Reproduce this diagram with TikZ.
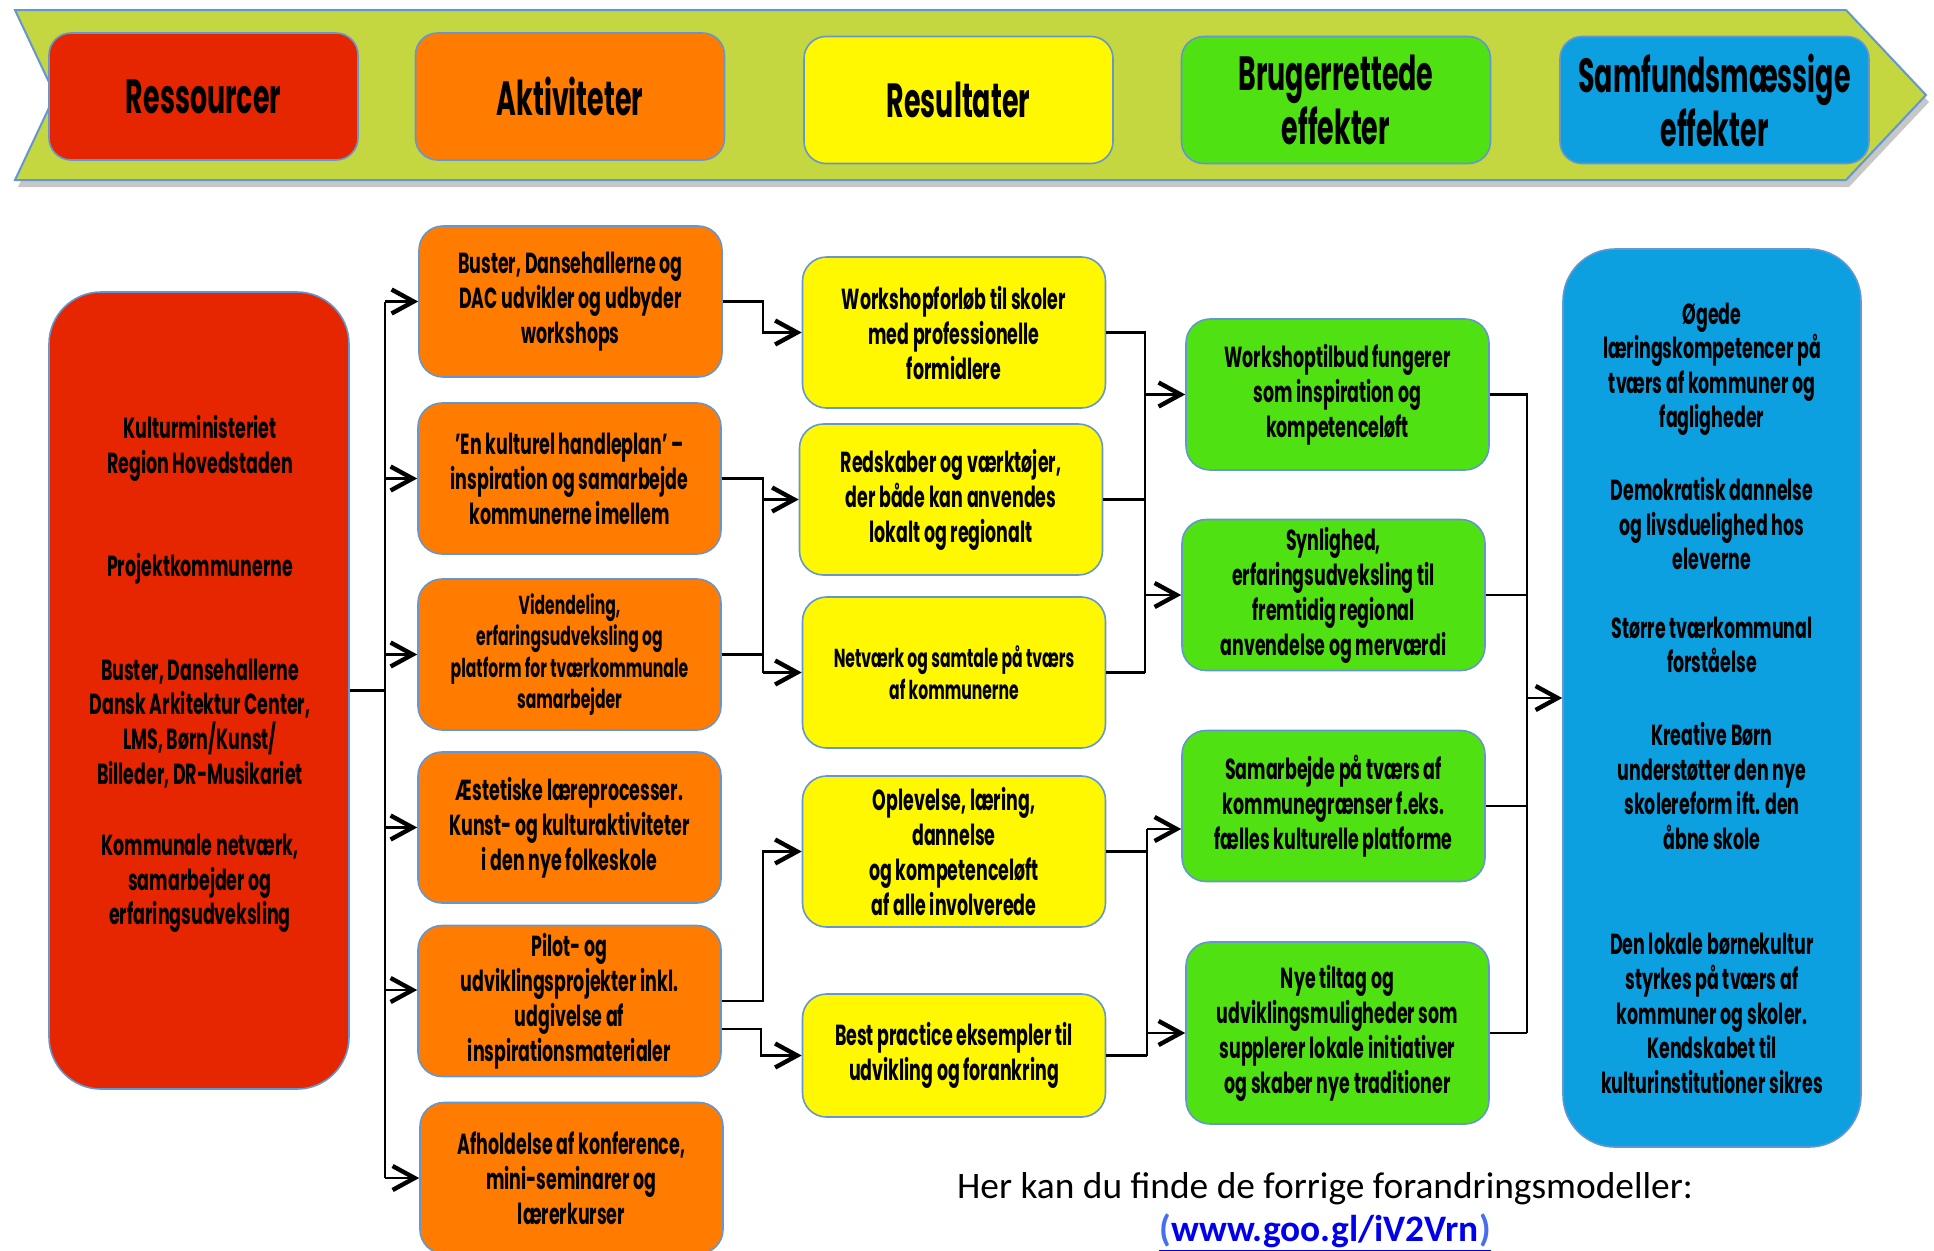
\documentclass[tikz,border=0pt]{standalone}
\usepackage{fontspec}
\setmainfont{Carlito}
\newfontfamily\boxfont[FakeStretch=0.6]{Poppins}
\newfontfamily\headfont[FakeStretch=0.56]{Poppins}
\usetikzlibrary{shapes, arrows.meta, calc}

\definecolor{resred}{RGB}{229,38,0}
\definecolor{aktorange}{RGB}{255,124,0}
\definecolor{resyellow}{RGB}{255,248,0}
\definecolor{brugreen}{RGB}{80,225,18}
\definecolor{samblue}{RGB}{12,160,225}
\definecolor{bannergreen}{RGB}{196,214,64}
\definecolor{boxline}{RGB}{100,150,210}
\definecolor{linkblue}{RGB}{0,0,235}
\definecolor{parblue}{RGB}{70,110,240}

\begin{document}
\begin{tikzpicture}[x=0.5pt, y=-0.5pt]
            \tikzstyle{box}=[rectangle, rounded corners=12pt, draw=boxline, line width=0.8pt, align=center, inner sep=2pt,
                minimum width=151.5pt, minimum height=75.5pt, font=\boxfont\bfseries\fontsize{14.5}{17.5}\selectfont]
            \tikzstyle{small}=[font=\boxfont\bfseries\fontsize{13}{15.8}\selectfont]
            \tikzstyle{head}=[box, rounded corners=11pt, minimum width=154.5pt, minimum height=63.5pt,
                font=\headfont\bfseries\fontsize{24}{27}\selectfont]
            \tikzstyle{bigbox}=[rectangle, rounded corners=26pt, draw=boxline, line width=0.8pt, align=center, minimum width=150pt]
            \tikzstyle{sidetext}=[align=center, font=\boxfont\bfseries\fontsize{14.5}{17.3}\selectfont]
            \tikzstyle{conn}=[line width=1.1pt]
            \tikzstyle{arr}=[conn, -{Straight Barb[length=11pt, width=12pt, line width=2.2pt]}]
            \useasboundingbox (0,0) rectangle (1934,1250);

            % banner
            \fill[black!22] (18,17) -- (1849,17) -- (1929,102) -- (1849,187) -- (18,187) -- (58,102) -- cycle;
            \draw[draw=boxline, fill=bannergreen, line width=1pt] (15,10) -- (1846,10) -- (1926,95) -- (1846,180) -- (15,180) -- (55,95) -- cycle;
            \node[head, fill=resred] (hres) at (203.5,96.5) {Ressourcer};
            \node[head, fill=aktorange] (hakt) at (570,96.5) {Aktiviteter};
            \node[head, fill=resyellow] (hresu) at (958.5,100) {Resultater};
            \node[head, fill=brugreen] (hbrug) at (1336,100) {Brugerrettede\\effekter};
            \node[head, fill=samblue] (hsam) at (1714.5,100) {Samfundsmæssige\\effekter};

            % ressourcer
            \node[bigbox, fill=resred, minimum height=398.5pt] (res) at (199,690.5) {};
            \node[sidetext] (restxt) at (200,674) {Kulturministeriet\\Region Hovedstaden\\[34.5pt]Projektkommunerne\\[34.5pt]Buster, Dansehallerne\\Dansk Arkitektur Center,\\LMS, Børn/Kunst/\\Billeder, DR-Musikariet\\[18.5pt]Kommunale netværk,\\samarbejder og\\erfaringsudveksling};

            % aktiviteter
            \node[box, fill=aktorange] (o1) at (570.5,301.5) {Buster, Dansehallerne og\\DAC udvikler og udbyder\\workshops};
            \node[box, fill=aktorange] (o2) at (569.5,478.5) {’En kulturel handleplan’ –\\inspiration og samarbejde\\kommunerne imellem};
            \node[box, small, fill=aktorange] (o3) at (569.5,654.5) {Videndeling,\\erfaringsudveksling og\\platform for tværkommunale\\samarbejder};
            \node[box, fill=aktorange] (o4) at (569.5,827.5) {Æstetiske læreprocesser.\\Kunst- og kulturaktiviteter\\i den nye folkeskole};
            \node[box, fill=aktorange] (o5) at (569.5,1001) {Pilot- og\\udviklingsprojekter inkl.\\udgivelse af\\inspirationsmaterialer};
            \node[box, fill=aktorange] (o6) at (571.5,1178) {Afholdelse af konference,\\mini-seminarer og\\lærerkurser};

            % resultater
            \node[box, fill=resyellow] (y1) at (954,332.5) {Workshopforløb til skoler\\med professionelle\\formidlere};
            \node[box, fill=resyellow] (y2) at (951,499.5) {Redskaber og værktøjer,\\der både kan anvendes\\lokalt og regionalt};
            \node[box, small, fill=resyellow] (y3) at (954,672.5) {Netværk og samtale på tværs\\af kommunerne};
            \node[box, fill=resyellow] (y4) at (954,851.5) {Oplevelse, læring,\\dannelse\\og kompetenceløft\\af alle involverede};
            \node[box, fill=resyellow, minimum height=61.5pt] (y5) at (954,1055.5) {Best practice eksempler til\\udvikling og forankring};

            % brugerrettede effekter
            \node[box, fill=brugreen] (g1) at (1337.5,394.5) {Workshoptilbud fungerer\\som inspiration og\\kompetenceløft};
            \node[box, fill=brugreen] (g2) at (1333.5,595) {Synlighed,\\erfaringsudveksling til\\fremtidig regional\\anvendelse og merværdi};
            \node[box, fill=brugreen] (g3) at (1333.5,806) {Samarbejde på tværs af\\kommunegrænser f.eks.\\fælles kulturelle platforme};
            \node[box, fill=brugreen, minimum height=91pt] (g4) at (1337.5,1033) {Nye tiltag og\\udviklingsmuligheder som\\supplerer lokale initiativer\\og skaber nye traditioner};

            % samfundsmaessige effekter
            \node[bigbox, sidetext, fill=samblue, minimum width=149pt, minimum height=449pt] (sam) at (1712,698) {Øgede\\læringskompetencer på\\tværs af kommuner og\\fagligheder\\[19pt]Demokratisk dannelse\\og livsduelighed hos\\eleverne\\[17pt]Større tværkommunal\\forståelse\\[19pt]Kreative Børn\\understøtter den nye\\skolereform ift. den\\åbne skole\\[35.5pt]Den lokale børnekultur\\styrkes på tværs af\\kommuner og skoler.\\Kendskabet til\\kulturinstitutioner sikres};

            % ressourcer -> aktiviteter
            \draw[conn] (res.east) -- ++(35,0) coordinate (b0);
            \draw[conn] (b0 |- o1.west) -- (b0 |- o6.west);
            \foreach \n in {o1,o2,o3,o4,o6}
                \draw[arr] (b0 |- \n.west) -- (\n.west);
            \draw[arr] (b0 |- {$(o5.west)+(0,-11)$}) -- ($(o5.west)+(0,-11)$);

            % aktiviteter -> resultater
            \draw[arr] (o1.east) -- ++(40,0) |- (y1.west);
            \draw[conn] (o2.east) -- ++(41,0) coordinate (b1) -- (b1 |- y3.west);
            \draw[conn] (o3.east) -- (b1 |- o3.east);
            \draw[arr] (b1 |- y2.west) -- (y2.west);
            \draw[arr] (b1 |- y3.west) -- (y3.west);
            \draw[arr] (o5.east) -- ++(41,0) |- (y4.west);
            \draw[arr] ($(o5.east)+(0,28)$) -- ++(39,0) |- (y5.west);

            % resultater -> brugerrettede effekter
            \draw[conn] (y1.east) -- ++(39,0) coordinate (b2) -- (b2 |- y3.east);
            \draw[conn] (y2.east) -- (b2 |- y2.east);
            \draw[conn] (y3.east) -- (b2 |- y3.east);
            \draw[arr] (b2 |- g1.west) -- (g1.west);
            \draw[arr] (b2 |- g2.west) -- (g2.west);
            \draw[conn] (y4.east) -- ++(41,0) coordinate (b3) -- (b3 |- y5.east);
            \draw[conn] (y5.east) -- (b3 |- y5.east);
            \draw[conn] (b3 |- y4.east) -- (b3 |- {$(g3.west)+(0,23)$});
            \draw[arr] (b3 |- {$(g3.west)+(0,23)$}) -- ($(g3.west)+(0,23)$);
            \draw[arr] (b3 |- g4.west) -- (g4.west);

            % brugerrettede -> samfundsmaessige effekter
            \draw[conn] (g1.east) -- ++(37,0) coordinate (b4) -- (b4 |- g4.east);
            \foreach \n in {g2,g3,g4}
                \draw[conn] (\n.east) -- (b4 |- \n.east);
            \draw[arr] (b4 |- sam.west) -- (sam.west);

            % link
            \node[font=\fontsize{18.7}{21}\selectfont] (note) at (1325,1189) {Her kan du finde de forrige forandringsmodeller:};
            \node[font=\bfseries\fontsize{18.7}{21}\selectfont, text=linkblue] (link) at (1325,1233) {\underline{\textcolor{parblue}{(}www.goo.gl/iV2Vrn\textcolor{parblue}{)}}};
\end{tikzpicture}
\end{document}
